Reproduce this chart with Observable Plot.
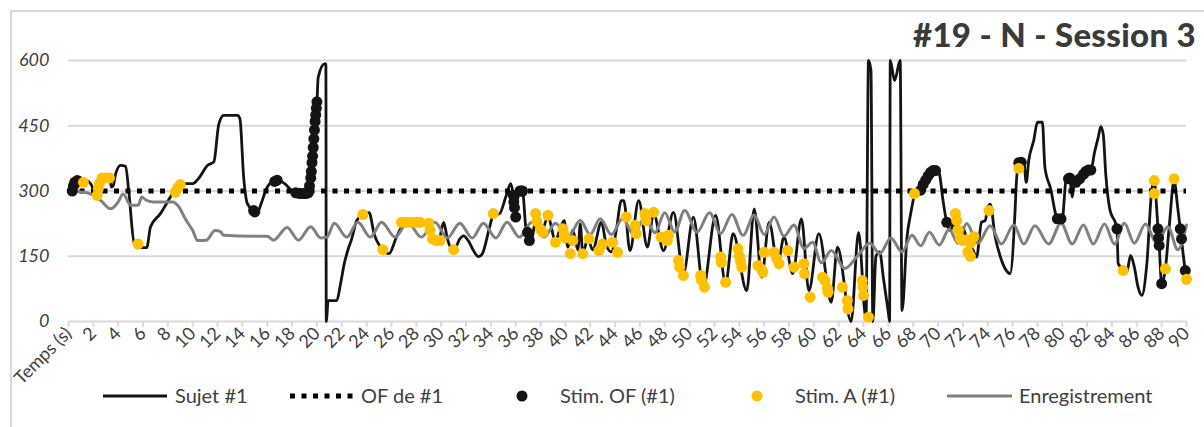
<!DOCTYPE html>
<html><head><meta charset="utf-8">
<script src="https://cdn.jsdelivr.net/npm/d3@7"></script>
<script src="https://cdn.jsdelivr.net/npm/@observablehq/plot@0.6"></script>
<style>
body{margin:0;background:#fff;width:1204px;height:427px;overflow:hidden;position:relative;font-family:Lato,"DejaVu Sans",sans-serif;color:#404040}
#frame{position:absolute;left:10px;top:10px;width:1300px;height:600px;border:2px solid #d9d9d9;box-sizing:border-box}
#chart{position:absolute;left:0;top:0}
#title{position:absolute;right:8px;top:14px;font-weight:900;font-size:33px;color:#3a3a3a;white-space:nowrap;letter-spacing:0.3px}
#legend{position:absolute;left:0;top:378px}
</style></head><body>
<div id="frame"></div><div id="chart"></div><div id="title"></div>
<svg id="legend" width="1204" height="40"></svg>
<script>
const titleText = "#19 - N - Session 3";
const yTicks = [0, 150, 300, 450, 600];
const xTicks = d3.range(0, 91, 2);
const xFirstLabel = "Temps (s)";
const legendLabels = ["Sujet #1", "OF de #1", "Stim. OF (#1)", "Stim. A (#1)", "Enregistrement"];
const ofValue = 300;

const sujet = [[0,300],[0.3,318],[0.6,326],[1.2,326],[1.6,322],[1.8,316],[2.3,286],[2.6,318],[2.9,332],[3.3,332],[3.45,309],[3.6,312],[3.8,340],[4.2,359],[4.6,357],[4.85,300],[5.3,179],[5.6,176],[5.8,170],[6.3,170],[6.6,217],[7.4,248],[8.2,286],[8.6,305],[9.0,317],[10.0,317],[10.5,330],[11.2,359],[11.7,367],[12.1,454],[12.5,474],[13.6,474],[13.8,466],[14.1,332],[14.4,271],[14.9,255],[15.2,250],[15.5,270],[16.0,309],[16.7,325],[17.4,317],[18.0,300],[18.3,294],[19.3,294],[19.5,330],[19.7,400],[19.85,460],[20.0,505],[20.1,561],[20.6,592],[20.72,592],[20.75,0],[20.9,48],[21.6,48],[21.9,87],[22.2,133],[22.5,165],[22.8,190],[23.2,232],[23.7,246],[24.2,250],[24.6,202],[25.3,165],[25.8,156],[26.4,194],[26.9,221],[27.2,228],[28.4,228],[28.9,228],[29.2,190],[29.8,186],[30.2,228],[30.5,190],[31.0,162],[31.5,190],[31.8,197],[32.2,185],[32.6,163],[33.0,149],[33.3,155],[33.9,217],[34.2,245],[34.7,248],[35.2,286],[35.6,317],[35.75,300],[36.0,240],[36.15,280],[36.3,300],[36.55,300],[36.8,220],[37.1,186],[37.3,190],[37.6,230],[38.0,200],[38.6,240],[39.2,186],[39.6,215],[39.9,232],[40.2,171],[40.6,210],[41.0,165],[41.2,224],[41.4,156],[41.8,190],[42.2,165],[42.9,228],[43.3,175],[43.7,160],[44.1,210],[44.5,278],[44.7,278],[45.2,163],[45.9,278],[46.6,171],[47.1,248],[47.9,163],[48.7,251],[49.5,110],[50.3,240],[51.1,79],[52.1,244],[52.9,87],[53.5,202],[54.6,71],[55.2,259],[55.8,102],[56.4,228],[57.1,133],[57.6,194],[58.3,110],[59.0,236],[59.6,71],[60.4,202],[61.4,44],[61.9,171],[63.0,0],[63.6,205],[64.2,5],[64.4,600],[64.6,577],[64.75,0],[65.0,150],[65.3,160],[65.6,100],[66.0,20],[66.1,0],[66.15,600],[66.5,554],[66.95,600],[67.1,25],[67.5,194],[67.8,248],[68.1,290],[68.5,306],[68.8,315],[69.2,335],[69.5,347],[69.9,347],[70.1,340],[70.4,278],[70.7,228],[71.0,209],[71.3,230],[71.6,195],[72.0,215],[72.4,180],[72.8,165],[73.1,148],[73.5,228],[73.8,232],[74.0,263],[74.2,270],[74.6,194],[75.0,150],[75.5,117],[75.8,110],[76.2,255],[76.3,317],[76.5,365],[76.9,367],[77.1,320],[77.3,370],[77.7,416],[78.0,458],[78.4,458],[78.6,355],[79.1,301],[79.4,255],[79.6,236],[80.0,236],[80.3,324],[80.6,330],[80.8,286],[81.0,320],[81.3,322],[81.6,335],[82.0,348],[82.3,348],[82.6,389],[82.9,424],[83.1,448],[83.3,430],[83.5,339],[83.8,262],[84.4,213],[84.5,133],[84.9,120],[85.2,115],[85.5,152],[85.8,125],[86.1,79],[86.4,60],[86.8,130],[87.2,301],[87.4,324],[87.6,260],[87.7,213],[87.8,175],[88.0,87],[88.3,121],[88.6,215],[89.0,324],[89.3,260],[89.5,213],[89.9,117],[90.0,100]];

const enregistrement = [[0,300],[1.0,298],[1.8,293],[2.6,278],[3.4,259],[4.0,275],[4.4,293],[5.0,267],[5.6,267],[5.9,286],[6.2,280],[6.8,275],[8.4,275],[8.9,263],[9.4,236],[10.0,209],[10.4,186],[11.1,187],[11.8,209],[12.2,207],[12.5,198],[14.9,196],[16.0,196],[16.5,187],[17.6,216],[18.5,187],[19.5,218],[20.3,192],[20.8,194],[21.4,226],[22.4,194],[23.3,228],[24.3,194],[25.2,228],[26.3,194],[27.3,228],[28.4,194],[29.5,228],[30.5,192],[31.5,226],[32.5,192],[33.4,226],[34.4,192],[35.3,228],[36.3,194],[37.3,228],[38.3,194],[39.2,226],[40.2,194],[41.2,232],[42.0,200],[42.8,236],[43.7,200],[44.6,236],[45.5,200],[46.4,240],[47.2,204],[48.0,250],[48.8,206],[49.6,255],[50.6,205],[51.6,250],[52.5,202],[53.4,246],[54.3,198],[55.2,245],[56.0,200],[56.8,240],[57.6,196],[58.4,222],[59.2,168],[59.9,182],[60.6,135],[61.4,163],[62.5,122],[63.5,150],[64.5,180],[65.3,156],[66.2,192],[67.1,160],[67.9,198],[68.6,174],[69.3,205],[70.1,176],[70.9,212],[71.6,180],[72.3,225],[73.2,180],[74.2,220],[75.1,178],[76.1,222],[76.9,178],[77.8,220],[78.9,178],[79.9,226],[80.8,178],[81.7,222],[82.5,178],[83.4,224],[84.2,178],[85.0,226],[85.8,180],[86.7,224],[87.6,180],[88.5,218],[89.3,165],[90.0,222]];

const stimOF = [[0.3,300],[0.4,312],[0.5,320],[0.7,324],[0.85,322],[14.9,255],[15.0,252],[16.6,322],[16.8,325],[18.3,296],[18.6,294],[18.9,294],[19.1,294],[19.3,296],[19.4,312],[19.5,330],[19.55,345],[19.6,365],[19.65,380],[19.7,400],[19.75,420],[19.8,440],[19.85,460],[19.9,475],[19.95,490],[20.0,505],[35.8,290],[35.85,275],[35.9,262],[36.0,240],[36.35,300],[36.45,300],[36.55,300],[36.95,205],[37.1,186],[68.6,302],[68.8,315],[69.0,325],[69.2,335],[69.4,343],[69.6,347],[69.8,347],[70.7,228],[76.5,365],[76.7,366],[79.6,236],[79.9,236],[80.5,328],[80.6,330],[81.1,320],[81.4,328],[81.7,338],[81.9,345],[82.1,348],[82.3,348],[84.4,213],[87.7,213],[87.75,192],[87.8,175],[88.0,87],[89.5,213],[89.6,190],[89.9,117]];

const stimA = [[1.2,320],[2.3,290],[2.4,305],[2.5,318],[2.7,330],[3.0,330],[3.3,330],[5.6,178],[8.6,297],[8.8,307],[9.0,315],[23.7,246],[25.3,165],[26.8,228],[27.2,228],[27.6,228],[28.0,228],[28.3,228],[29.0,226],[29.1,210],[29.3,190],[29.6,186],[29.9,186],[31.0,165],[34.2,248],[37.6,248],[37.7,230],[38.0,212],[38.2,205],[38.6,244],[39.2,182],[39.8,213],[39.9,200],[40.0,192],[40.4,156],[40.6,186],[41.4,156],[41.9,190],[42.7,163],[43.0,178],[43.8,182],[44.2,159],[44.9,240],[45.6,221],[45.7,202],[46.4,248],[46.5,232],[47.1,251],[47.7,194],[48.2,186],[48.3,198],[49.1,140],[49.2,125],[49.5,106],[50.9,106],[50.95,95],[51.2,79],[52.5,148],[52.55,136],[52.9,90],[53.9,167],[54.0,150],[54.1,138],[54.2,125],[55.5,129],[55.9,113],[55.8,120],[56.0,159],[56.8,159],[57.0,145],[57.2,133],[57.9,163],[58.4,125],[59.2,133],[59.25,110],[59.7,56],[60.7,102],[60.9,94],[61.1,76],[61.15,67],[62.3,79],[62.7,48],[62.75,29],[63.9,94],[63.95,79],[64.0,60],[64.4,10],[68.1,294],[71.4,248],[71.5,232],[71.6,210],[71.8,190],[72.0,186],[72.3,188],[72.6,180],[72.4,160],[72.6,150],[72.9,195],[74.1,255],[76.5,352],[84.9,117],[87.4,324],[87.4,294],[88.3,121],[89.0,328],[90.0,97]];

const chart = Plot.plot({
  width: 1204, height: 427,
  marginLeft: 68, marginRight: 18, marginTop: 60, marginBottom: 106,
  style: {fontFamily: "Lato, 'DejaVu Sans', sans-serif", color: "#404040", background: "transparent", overflow: "visible"},
  x: {domain: [0, 90], label: null},
  y: {domain: [0, 600], label: null},
  marks: [
    Plot.gridY([150, 300, 450, 600], {stroke: "#d9d9d9", strokeOpacity: 1, strokeWidth: 2}),
    Plot.ruleY([0], {stroke: "#d9d9d9", strokeWidth: 2}),
    Plot.axisY({ticks: yTicks, tickSize: 0, tickPadding: 19, fontSize: 18, fontStyle: "italic", label: null}),
    Plot.axisX({ticks: xTicks, tickSize: 6, tickPadding: 3, tickRotate: -45, fontSize: 18, stroke: "#d9d9d9", strokeWidth: 2,
      tickFormat: d => d === 0 ? xFirstLabel : String(d), label: null}),
    Plot.line(sujet, {x: d => d[0], y: d => d[1], stroke: "#141414", strokeWidth: 2.8, curve: "monotone-x"}),
    Plot.ruleY([ofValue], {stroke: "#000", strokeWidth: 5, strokeDasharray: "5 6.5"}),
    Plot.line(enregistrement, {x: d => d[0], y: d => d[1], stroke: "#808080", strokeWidth: 3, curve: "monotone-x"}),
    Plot.dot(stimOF, {x: d => d[0], y: d => d[1], r: 5.5, fill: "#141414"}),
    Plot.dot(stimA, {x: d => d[0], y: d => d[1], r: 5.5, fill: "#FFC000"})
  ]
});
document.getElementById("chart").appendChild(chart);
document.getElementById("title").textContent = titleText;

// legend
const lg = d3.select("#legend");
const cy = 18;
const fs = 20;
const items = [
  {kind: "line", x0: 103, x1: 167, tx: 175, color: "#141414", w: 3},
  {kind: "dash", x0: 290, x1: 353, tx: 361, color: "#000", w: 5},
  {kind: "dot", cx: 522, tx: 560, color: "#141414"},
  {kind: "dot", cx: 757, tx: 795, color: "#FFC000"},
  {kind: "line", x0: 947, x1: 1012, tx: 1019, color: "#808080", w: 3}
];
items.forEach((it, i) => {
  if (it.kind === "line") lg.append("line").attr("x1", it.x0).attr("x2", it.x1).attr("y1", cy).attr("y2", cy).attr("stroke", it.color).attr("stroke-width", it.w);
  if (it.kind === "dash") lg.append("line").attr("x1", it.x0).attr("x2", it.x1).attr("y1", cy).attr("y2", cy).attr("stroke", it.color).attr("stroke-width", it.w).attr("stroke-dasharray", "5 6.5");
  if (it.kind === "dot") lg.append("circle").attr("cx", it.cx).attr("cy", cy).attr("r", 5.5).attr("fill", it.color);
  lg.append("text").attr("x", it.tx).attr("y", cy).attr("dy", "0.36em").attr("font-size", fs).attr("fill", "#404040")
    .attr("font-family", "Lato, 'DejaVu Sans', sans-serif").text(legendLabels[i]);
});
</script></body></html>
